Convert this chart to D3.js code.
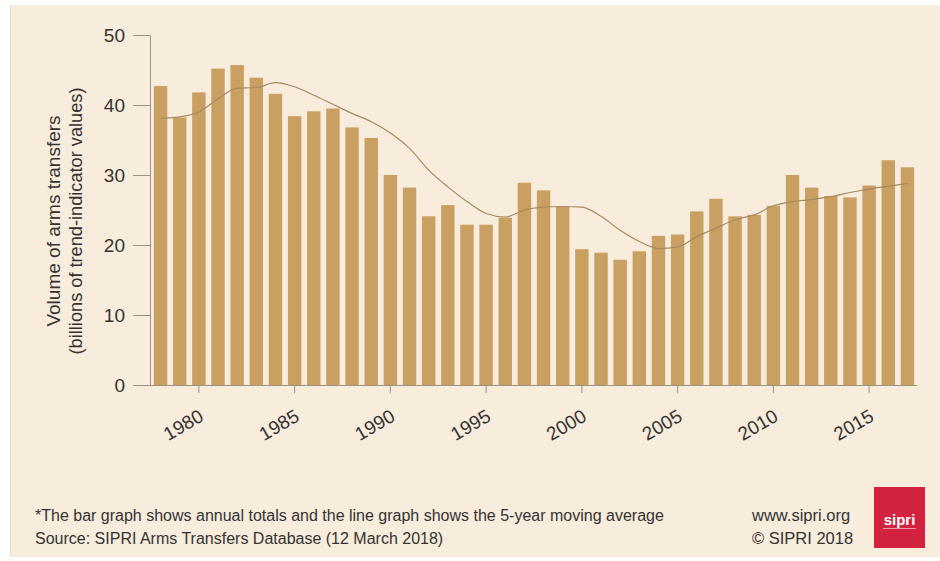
<!DOCTYPE html>
<html>
<head>
<meta charset="utf-8">
<script src="https://cdn.jsdelivr.net/npm/d3@7"></script>
<style>
  html, body { margin: 0; padding: 0; background: #ffffff; }
  svg { display: block; }
  text { font-family: "Liberation Sans", Arial, sans-serif; }
</style>
</head>
<body>
<svg id="chart" width="940" height="561"></svg>
<script>
// ---- data ----
const years = [1978,1979,1980,1981,1982,1983,1984,1985,1986,1987,1988,1989,1990,1991,1992,1993,1994,1995,1996,1997,1998,1999,2000,2001,2002,2003,2004,2005,2006,2007,2008,2009,2010,2011,2012,2013,2014,2015,2016,2017];
const annualTotals = [42.7,38.2,41.8,45.2,45.7,43.9,41.6,38.4,39.1,39.5,36.8,35.3,30.0,28.2,24.1,25.7,22.9,22.9,23.9,28.9,27.8,25.5,19.4,18.9,17.9,19.1,21.3,21.5,24.8,26.6,24.1,24.3,25.6,30.0,28.2,27.0,26.8,28.5,32.1,31.1];
const movingAverage = [38.1,38.3,39.0,40.9,42.4,42.5,43.2,42.6,41.4,40.1,38.8,37.6,36.0,33.8,30.7,28.3,26.2,24.5,24.0,25.0,25.4,25.5,25.4,24.1,22.1,20.5,19.5,19.7,21.2,22.4,23.6,24.3,25.6,26.2,26.5,26.9,27.5,28.0,28.4,28.8];
const yTickValues = [0,10,20,30,40,50];
const xTickYears = [1980,1985,1990,1995,2000,2005,2010,2015];
const yTitleLines = ["Volume of arms transfers", "(billions of trend-indicator values)"];
const footnoteLines = ["*The bar graph shows annual totals and the line graph shows the 5-year moving average", "Source: SIPRI Arms Transfers Database (12 March 2018)"];
const creditLines = ["www.sipri.org", "\u00A9 SIPRI 2018"];

// ---- drawing ----
const svg = d3.select("#chart");
const W = 940, H = 561;

svg.append("rect").attr("x", 0).attr("y", 0).attr("width", W).attr("height", H).attr("fill", "#ffffff");
svg.append("rect").attr("x", 10).attr("y", 5).attr("width", W - 10).attr("height", 552).attr("fill", "#f8ecdc");
svg.append("line").attr("x1", 10.5).attr("x2", 10.5).attr("y1", 5).attr("y2", 557).attr("stroke", "#e6dccb").attr("stroke-width", 1);

const x = d3.scaleBand().domain(years).range([151, 917]).paddingInner(0.3).paddingOuter(0.15);
const y = d3.scaleLinear().domain([0, 50]).range([385, 35]);

const barColor = "#c9a061";
const axisColor = "#9b9383";
const textColor = "#333333";

// bars
svg.append("g").selectAll("rect").data(years).join("rect")
  .attr("x", d => x(d))
  .attr("y", (d, i) => y(annualTotals[i]))
  .attr("width", x.bandwidth())
  .attr("height", (d, i) => y(0) - y(annualTotals[i]))
  .attr("fill", barColor);

// moving-average line
const line = d3.line()
  .x((d, i) => x(years[i]) + x.bandwidth() / 2)
  .y(d => y(d))
  .curve(d3.curveMonotoneX);
svg.append("path").datum(movingAverage)
  .attr("d", line)
  .attr("fill", "none")
  .attr("stroke", "#a58a60")
  .attr("stroke-width", 1.2);

// y axis
const yAxis = svg.append("g").attr("transform", "translate(150,0)")
  .call(d3.axisLeft(y).tickValues(yTickValues).tickSize(17).tickSizeOuter(0).tickPadding(8));
yAxis.select(".domain").attr("stroke", axisColor);
yAxis.selectAll(".tick line").attr("stroke", axisColor);
yAxis.selectAll(".tick text").attr("fill", textColor).attr("font-size", 19)
  .attr("font-family", "Liberation Sans, Arial, sans-serif");

// x axis
const xAxis = svg.append("g").attr("transform", "translate(0,385)")
  .call(d3.axisBottom(x).tickValues(xTickYears).tickSize(8).tickSizeOuter(0));
xAxis.select(".domain").attr("stroke", axisColor).attr("d", "M150,0.5H917");
xAxis.selectAll(".tick line").attr("stroke", axisColor);
xAxis.selectAll(".tick text")
  .attr("fill", textColor).attr("font-size", 19)
  .attr("font-family", "Liberation Sans, Arial, sans-serif")
  .attr("text-anchor", "end")
  .attr("y", 0).attr("dy", 0)
  .attr("transform", "translate(6,35) rotate(-30)");

// y title
const yTitle = svg.append("g").attr("transform", "translate(0,221)");
yTitle.selectAll("text").data(yTitleLines).join("text")
  .attr("transform", (d, i) => `translate(${60 + i * 22},0) rotate(-90)`)
  .attr("text-anchor", "middle")
  .attr("font-size", (d, i) => i === 0 ? 19 : 18.2)
  .attr("fill", textColor)
  .text(d => d);

// footnotes
svg.append("g").selectAll("text").data(footnoteLines).join("text")
  .attr("x", 35).attr("y", (d, i) => 521 + i * 23)
  .attr("font-size", 16).attr("fill", textColor)
  .text(d => d);

svg.append("g").selectAll("text").data(creditLines).join("text")
  .attr("x", 752).attr("y", (d, i) => 521 + i * 23)
  .attr("font-size", 16.5).attr("fill", textColor)
  .text(d => d);

// logo
const logo = svg.append("g").attr("transform", "translate(874,487)");
logo.append("rect").attr("width", 51).attr("height", 61).attr("fill", "#d3223f");
logo.append("text").attr("x", 25.5).attr("y", 38).attr("text-anchor", "middle")
  .attr("font-family", "Liberation Serif, DejaVu Serif, serif").attr("font-weight", "bold")
  .attr("font-size", 15).attr("fill", "#ffffff").text("sipri");
logo.append("line").attr("x1", 9).attr("x2", 42).attr("y1", 41.5).attr("y2", 41.5)
  .attr("stroke", "#f4b8c2").attr("stroke-width", 0.8);
</script>
</body>
</html>
